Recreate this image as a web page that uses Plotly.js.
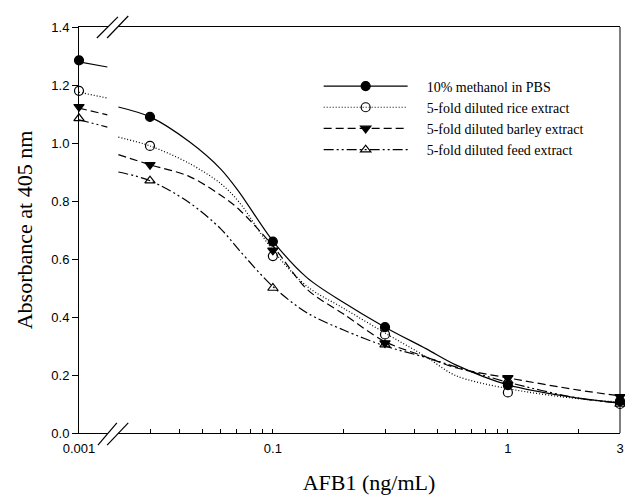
<!DOCTYPE html>
<html>
<head>
<meta charset="utf-8">
<script src="https://cdn.plot.ly/plotly-3.0.1.min.js"></script>
<style>html,body{margin:0;padding:0;background:#fff;}#chart{width:625px;height:495px;}</style>
</head>
<body>
<div id="chart"></div>
<script>
// Data points (concentration in ng/mL)
var conc = [0.001, 0.03, 0.1, 0.3, 1, 3];
var seriesNames = ['10% methanol in PBS', '5-fold diluted rice extract', '5-fold diluted barley extract', '5-fold diluted feed extract'];
var methanol = [1.285, 1.09, 0.66, 0.365, 0.165, 0.11];
var rice     = [1.18, 0.99, 0.61, 0.34, 0.14, 0.10];
var barley   = [1.125, 0.925, 0.63, 0.31, 0.19, 0.125];
var feed     = [1.085, 0.87, 0.50, 0.305, 0.18, 0.10];

// Fitted curves
var curveLeftX = [0.001, 0.00132];
var methanolLeft = [1.28, 1.262];
var riceLeft     = [1.175, 1.155];
var barleyLeft   = [1.12, 1.097];
var feedLeft     = [1.08, 1.055];

var curveX = [0.022, 0.03, 0.044, 0.06, 0.072, 0.1, 0.14, 0.2, 0.3, 0.45, 0.6, 1, 2, 3];
var methanolCurve = [1.124, 1.09, 1.005, 0.91, 0.83, 0.662, 0.535, 0.45, 0.365, 0.29, 0.235, 0.166, 0.12, 0.103];
var riceCurve     = [1.02, 0.99, 0.93, 0.86, 0.795, 0.63, 0.505, 0.43, 0.345, 0.262, 0.198, 0.153, 0.118, 0.107];
var barleyCurve   = [0.96, 0.925, 0.885, 0.82, 0.77, 0.645, 0.495, 0.41, 0.315, 0.262, 0.225, 0.19, 0.148, 0.128];
var feedCurve     = [0.90, 0.87, 0.795, 0.704, 0.63, 0.505, 0.414, 0.355, 0.30, 0.26, 0.228, 0.175, 0.12, 0.103];

var xTickVals = [0.03,0.04,0.05,0.06,0.07,0.08,0.09,0.1,0.2,0.3,0.4,0.5,0.6,0.7,0.8,0.9,1,2,3];
var xTickText = ['','','','','','','','0.1','','','','','','','','','1','','3'];

var values = [methanol, rice, barley, feed];
var lefts = [methanolLeft, riceLeft, barleyLeft, feedLeft];
var curves = [methanolCurve, riceCurve, barleyCurve, feedCurve];
var symbols = ['circle', 'circle-open', 'triangle-down', 'triangle-up-open'];
var dashes = ['solid', '1px,2px', '8px,4px', '10px,3px,2px,3px,2px,3px'];

var traces = [];
for (var i = 0; i < 4; i++) {
  var ln = {color: '#000', width: 1.2, dash: dashes[i], shape: 'spline', smoothing: 0.9};
  var mk = {symbol: symbols[i], size: 9, color: '#000', line: {color: '#000', width: 1.2}};
  traces.push({x: curveLeftX, y: lefts[i], xaxis: 'x', yaxis: 'y', mode: 'lines', line: ln, showlegend: false, hoverinfo: 'skip'});
  traces.push({x: curveX, y: curves[i], xaxis: 'x2', yaxis: 'y', mode: 'lines', line: ln, showlegend: false, hoverinfo: 'skip'});
  traces.push({x: conc.slice(0, 1), y: values[i].slice(0, 1), xaxis: 'x', yaxis: 'y', mode: 'markers', marker: mk, showlegend: false, cliponaxis: false});
  traces.push({x: conc.slice(1), y: values[i].slice(1), xaxis: 'x2', yaxis: 'y', mode: 'markers', marker: mk, showlegend: false, cliponaxis: false});
  // legend entry
  traces.push({x: [null], y: [null], xaxis: 'x2', yaxis: 'y', mode: 'lines+markers', name: '\u00a0\u00a0\u00a0\u00a0' + seriesNames[i],
    line: {color: '#000', width: 1.2, dash: dashes[i]}, marker: mk, showlegend: true});
}

var dl = (108 - 79) / 541;
var dr = (118 - 79) / 541;

var layout = {
  width: 625, height: 495,
  margin: {l: 79, r: 5, t: 27, b: 62},
  paper_bgcolor: '#fff', plot_bgcolor: '#fff',
  showlegend: true,
  legend: {x: 0.443, y: 0.893, xanchor: 'left', yanchor: 'top', bgcolor: 'rgba(0,0,0,0)',
    font: {family: 'Liberation Serif, Times New Roman, serif', size: 14, color: '#000'},
    itemwidth: 84, tracegroupgap: 0},
  xaxis: {domain: [0, dl], type: 'log', range: [-3, -3 + 29 / 235], anchor: 'y',
    tickvals: [0.001], ticktext: ['0.001'], ticks: '', showgrid: false, zeroline: false,
    showline: true, linecolor: '#000', linewidth: 1, mirror: true, ticklabelstandoff: 3,
    tickfont: {family: 'Liberation Sans, Arial, sans-serif', size: 13, color: '#000'}},
  xaxis2: {domain: [dr, 1], type: 'log', range: [Math.log10(3) - (620 - 118) / 235, Math.log10(3)], anchor: 'y',
    tickvals: xTickVals, ticktext: xTickText, ticks: 'inside', ticklen: 4, tickcolor: '#000',
    showgrid: false, zeroline: false, showline: true, linecolor: '#000', linewidth: 1, mirror: true, ticklabelstandoff: 3,
    tickfont: {family: 'Liberation Sans, Arial, sans-serif', size: 13, color: '#000'},
    title: {text: 'AFB1 (ng/mL)', standoff: 20, font: {family: 'Liberation Serif, Times New Roman, serif', size: 22, color: '#000'}}},
  yaxis: {range: [0, 1.4], dtick: 0.2, tickformat: '.1f', anchor: 'x', ticks: 'outside', ticklen: 6, tickcolor: '#000',
    showgrid: false, zeroline: false, showline: true, linecolor: '#000', linewidth: 1,
    tickfont: {family: 'Liberation Sans, Arial, sans-serif', size: 13, color: '#000'},
    title: {text: 'Absorbance at 405 nm', standoff: 12, font: {family: 'Liberation Serif, Times New Roman, serif', size: 22, color: '#000'}}},
  shapes: [
    {type: 'line', xref: 'paper', yref: 'paper', x0: 1, x1: 1, y0: 0, y1: 1, line: {color: '#000', width: 1}},
    {type: 'line', xref: 'paper', yref: 'paper', x0: 0.035, y0: -0.030, x1: 0.070, y1: 0.025, line: {color: '#000', width: 1.2}},
    {type: 'line', xref: 'paper', yref: 'paper', x0: 0.052, y0: -0.030, x1: 0.091, y1: 0.025, line: {color: '#000', width: 1.2}},
    {type: 'line', xref: 'paper', yref: 'paper', x0: 0.033, y0: 0.973, x1: 0.072, y1: 1.025, line: {color: '#000', width: 1.2}},
    {type: 'line', xref: 'paper', yref: 'paper', x0: 0.052, y0: 0.973, x1: 0.091, y1: 1.027, line: {color: '#000', width: 1.2}}
  ]
};

Plotly.newPlot('chart', traces, layout, {staticPlot: true, displayModeBar: false});
</script>
</body>
</html>
